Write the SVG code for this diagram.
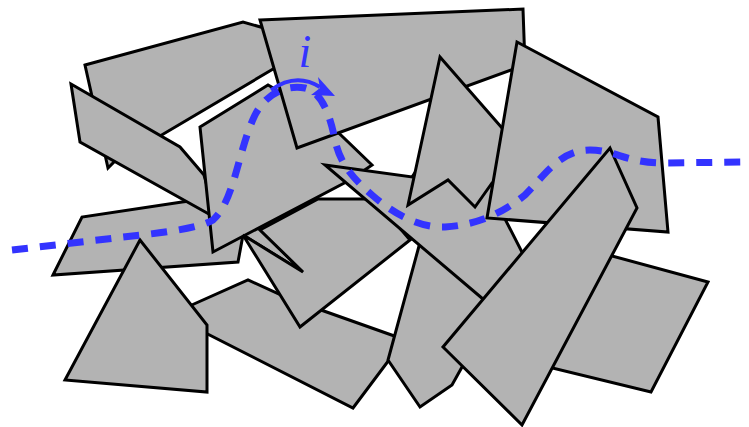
<svg xmlns="http://www.w3.org/2000/svg" width="749" height="427" viewBox="0 0 749 427">
<style>
.p{fill:#b3b3b3;stroke:#000;stroke-width:3;stroke-linejoin:miter}
.d{fill:none;stroke:#3333ff;stroke-width:7;stroke-dasharray:16 12}
.a{fill:none;stroke:#3333ff;stroke-width:4}
.t{font-family:"Liberation Serif",serif;font-style:italic;font-size:46px;fill:#3333ff}
</style>
<rect width="749" height="427" fill="#fff"/>
<g id="A"><polygon class="p" points="85,65 243,22 285,34 285,62 160,136 120,156 108,168"/></g>
<g id="L"><polygon class="p" points="53,275 82,217 182,202 230,196 260,229 303,272 243,235 238,262"/></g>
<g id="C"><polygon class="p" points="71,84 180,147 204,175 216,218 80,142"/></g>
<g id="O"><polygon class="p" points="185,308 248,280 290,299 400,338 395,352 353,408 188,324"/></g>
<g id="N"><polygon class="p" points="65,380 140,240 207,325 207,392"/></g>
<g id="D"><polygon class="p" points="200,127 268,85 320,115 372,165 350,180 213,252"/></g>
<g id="B"><polygon class="p" points="260,20 523,9 525,65 297,148"/></g>
<g id="E"><polygon class="p" points="243,235 303,272 260,230 318,199 375,199 410,240 300,327"/></g>
<g id="J"><polygon class="p" points="422,235 495,300 462,367 452,385 420,407 388,360"/></g>
<g id="K"><polygon class="p" points="325,165 412,177 430,150 520,150 503,215 525,258 490,305"/></g>
<g id="H"><polygon class="p" points="440,57 502,128 515,140 510,185 492,183 475,207 448,180 408,205"/></g>
<g id="F"><polygon class="p" points="517,42 658,117 668,232 487,218"/></g>
<g id="P"><polygon class="p" points="590,250 708,282 651,392 540,365"/></g>
<g id="G"><polygon class="p" points="610,148 637,208 522,425 443,347"/></g>
<g id="connectors">
<path class="d" d="M12,250 L150,234 Q200,228 213,220 C235,200 238,150 255,115 C268,90 290,85 305,88 C322,92 330,115 335,140 C340,165 355,180 372,195 C395,215 420,228 445,227 C475,225 500,215 525,195 C545,175 560,150 590,150 C615,150 625,162 660,163 L749,162"/>
<path class="a" d="M271,90 Q296,72 320,87"/>
<polygon points="318,77 335,96 311,95 320,88" fill="#3333ff"/>
</g>
<g id="label"><text class="t" x="305" y="67" text-anchor="middle">i</text></g>
</svg>
